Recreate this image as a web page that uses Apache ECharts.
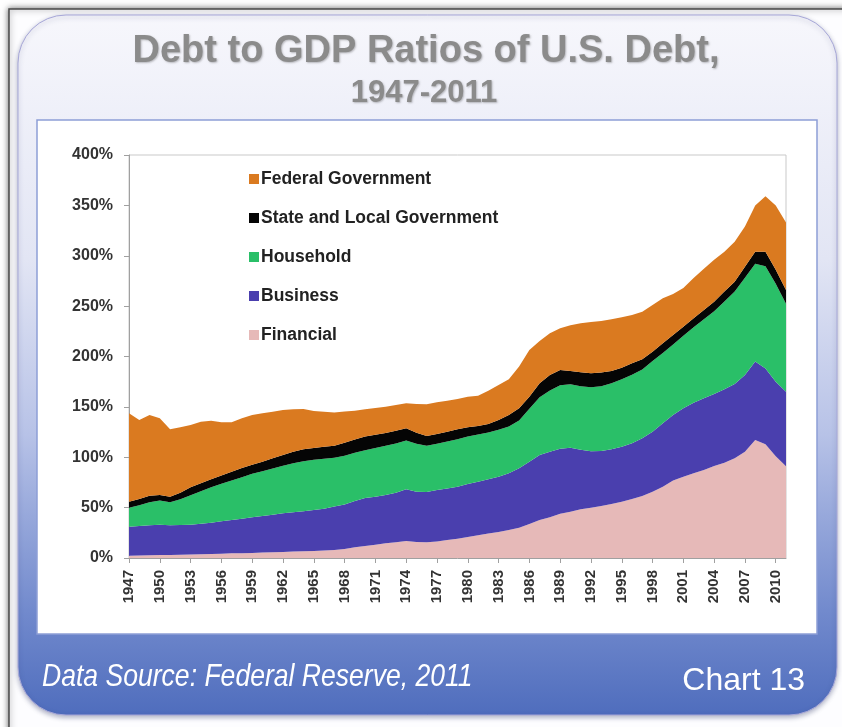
<!DOCTYPE html>
<html>
<head>
<meta charset="utf-8">
<title>Debt to GDP Ratios of U.S. Debt, 1947-2011</title>
<script src="https://cdn.jsdelivr.net/npm/echarts@6/dist/echarts.min.js"></script>
<style>
  html, body { margin: 0; padding: 0; background: #ffffff; }
  #chart { width: 842px; height: 727px; }
</style>
</head>
<body>
<div id="chart"></div>
<script>
// Years on the category axis
const years = [
  '1947','1948','1949','1950','1951','1952','1953','1954','1955','1956',
  '1957','1958','1959','1960','1961','1962','1963','1964','1965','1966',
  '1967','1968','1969','1970','1971','1972','1973','1974','1975','1976',
  '1977','1978','1979','1980','1981','1982','1983','1984','1985','1986',
  '1987','1988','1989','1990','1991','1992','1993','1994','1995','1996',
  '1997','1998','1999','2000','2001','2002','2003','2004','2005','2006',
  '2007','2008','2009','2010','2011'
];

// Debt as a percent of GDP, by sector (stacked bottom to top)
const financial = [
  2.3, 2.5, 2.7, 3.0, 3.0, 3.2, 3.5, 3.7, 4.0, 4.3,
  4.6, 4.8, 5.0, 5.4, 5.7, 6.0, 6.4, 6.7, 7.0, 7.5,
  8.0, 9.0, 10.6, 11.9, 13.2, 14.6, 15.6, 16.9, 15.9, 15.6,
  16.5, 17.9, 19.2, 20.8, 22.5, 24.2, 25.8, 27.8, 30.1, 33.7,
  37.7, 40.4, 44.0, 46.0, 48.3, 50.0, 51.6, 53.6, 55.9, 58.6,
  61.5, 65.8, 70.8, 76.8, 80.7, 84.0, 87.3, 91.3, 94.6, 98.9,
  105.5, 117.0, 113.0, 101.0, 91.0
];
const business = [
  28.7, 29.3, 29.7, 30.1, 29.4, 29.6, 29.6, 30.4, 31.1, 32.1,
  33.1, 34.2, 35.4, 36.3, 37.3, 38.3, 38.9, 39.6, 40.6, 41.5,
  43.0, 44.0, 45.9, 47.7, 47.7, 47.9, 49.2, 51.3, 49.9, 49.9,
  51.0, 51.2, 51.6, 52.6, 53.3, 53.9, 54.9, 56.2, 58.9, 61.9,
  64.5, 65.1, 64.5, 63.5, 59.2, 55.9, 54.6, 54.3, 54.6, 55.2,
  57.3, 59.6, 62.9, 65.1, 67.9, 70.2, 71.2, 71.5, 72.8, 73.8,
  76.1, 78.0, 75.0, 74.0, 74.0
];
const household = [
  18.8, 20.6, 23.0, 24.0, 23.0, 25.6, 29.3, 32.2, 35.2, 37.2,
  39.2, 41.2, 43.1, 44.5, 45.8, 47.2, 48.8, 49.8, 49.8, 49.4,
  48.4, 48.5, 48.0, 47.4, 48.4, 48.8, 48.8, 48.4, 47.5, 45.8,
  45.8, 46.5, 47.1, 47.2, 46.8, 46.5, 46.5, 46.5, 47.5, 52.5,
  57.4, 60.7, 63.0, 63.0, 63.0, 63.6, 64.3, 65.6, 67.0, 68.2,
  68.2, 70.1, 69.8, 70.1, 71.9, 74.8, 78.5, 82.2, 87.1, 91.8,
  96.5, 97.0, 101.5, 97.1, 87.3
];
const stateLocal = [
  6.1, 6.2, 6.5, 5.4, 5.5, 6.4, 7.7, 7.8, 7.8, 8.4,
  8.8, 9.1, 9.1, 9.4, 10.1, 10.7, 11.4, 11.8, 11.8, 12.1,
  12.1, 13.0, 13.0, 13.5, 13.1, 12.8, 12.8, 12.1, 11.1, 9.8,
  9.8, 9.8, 9.8, 9.1, 8.4, 8.4, 9.8, 11.4, 12.1, 12.0,
  13.8, 15.4, 15.1, 13.1, 13.8, 13.8, 13.5, 12.1, 11.4, 11.2,
  10.2, 9.3, 9.6, 9.3, 9.1, 8.9, 9.2, 9.4, 9.9, 9.8,
  11.1, 12.0, 14.5, 13.9, 13.7
];
const federal = [
  87.7, 78.4, 80.1, 76.1, 66.8, 64.9, 61.9, 61.2, 58.2, 52.7,
  49.0, 49.3, 49.4, 48.0, 46.3, 44.7, 42.1, 40.0, 36.7, 34.7,
  32.8, 31.0, 28.7, 27.1, 26.5, 26.1, 25.5, 24.8, 28.5, 31.4,
  31.4, 30.8, 30.1, 30.4, 30.1, 33.1, 34.7, 35.4, 41.4, 46.4,
  42.1, 41.4, 41.4, 45.4, 48.6, 50.9, 51.2, 51.3, 50.0, 48.0,
  47.3, 46.3, 44.6, 40.7, 38.4, 40.1, 40.8, 41.6, 39.6, 39.7,
  39.8, 46.0, 55.0, 64.0, 67.0
];

// Value axis ticks
const yTicks = { min: 0, max: 400, step: 50 };

const sans = '"Liberation Sans", Arial, Helvetica, sans-serif';

const colors = {
  federal: '#DA7A20',
  stateLocal: '#050505',
  household: '#2ABF68',
  business: '#4A3FAE',
  financial: '#E6B9B8'
};

function layer(name, data, color) {
  return {
    name: name,
    type: 'line',
    stack: 'debt',
    data: data,
    symbol: 'none',
    showSymbol: false,
    smooth: false,
    lineStyle: { width: 0, color: color },
    itemStyle: { color: color },
    areaStyle: { color: color, opacity: 1 },
    emphasis: { disabled: true },
    silent: true
  };
}

const chart = echarts.init(document.getElementById('chart'), null, { renderer: 'canvas' });

const option = {
  animation: false,
  backgroundColor: '#ffffff',
  graphic: [
    {
      type: 'rect', z: -100, silent: true,
      shape: { x: 9, y: 9, width: 860, height: 760 },
      style: { fill: '#fdfdff', stroke: '#4a4a4a', lineWidth: 1.5,
               shadowBlur: 6, shadowColor: 'rgba(0,0,0,0.55)' }
    },
    {
      type: 'rect', z: -90, silent: true,
      shape: { x: 18, y: 15, width: 819, height: 700, r: 48 },
      style: {
        fill: new echarts.graphic.LinearGradient(0, 0, 0, 1, [
          { offset: 0, color: '#f7f7fc' },
          { offset: 0.35, color: '#e2e5f4' },
          { offset: 0.6, color: '#b7c2e7' },
          { offset: 0.85, color: '#728acd' },
          { offset: 1, color: '#4f6dbd' }
        ]),
        stroke: '#a7a7d8', lineWidth: 1,
        shadowBlur: 5, shadowColor: 'rgba(30,40,90,0.35)', shadowOffsetY: 2
      }
    },
    {
      type: 'rect', z: -80, silent: true,
      shape: { x: 37, y: 120, width: 780, height: 514 },
      style: { fill: '#ffffff', stroke: '#8d9ed6', lineWidth: 1.5 }
    },
    {
      type: 'text', z: 10, silent: true,
      style: {
        text: 'Debt to GDP Ratios of U.S. Debt,', x: 426, y: 33,
        align: 'center', verticalAlign: 'top',
        font: 'bold 38px ' + sans, fill: '#8b8b8b',
        textShadowColor: 'rgba(0,0,0,0.25)', textShadowBlur: 2, textShadowOffsetX: 1, textShadowOffsetY: 1
      }
    },
    {
      type: 'text', z: 10, silent: true,
      style: {
        text: '1947-2011', x: 424, y: 78,
        align: 'center', verticalAlign: 'top',
        font: 'bold 31px ' + sans, fill: '#8b8b8b',
        textShadowColor: 'rgba(0,0,0,0.25)', textShadowBlur: 2, textShadowOffsetX: 1, textShadowOffsetY: 1
      }
    },
    {
      // condensed italic footer
      type: 'text', z: 10, silent: true,
      x: 42, y: 677, scaleX: 0.83, scaleY: 1,
      style: {
        text: 'Data Source: Federal Reserve, 2011', x: 0, y: 0,
        align: 'left', verticalAlign: 'middle',
        font: 'italic 32px ' + sans, fill: '#ffffff'
      }
    },
    {
      type: 'text', z: 10, silent: true,
      style: {
        text: 'Chart 13', x: 805, y: 681,
        align: 'right', verticalAlign: 'middle',
        font: '32px ' + sans, fill: '#ffffff'
      }
    }
  ],
  legend: {
    orient: 'vertical',
    left: 244,
    top: 165,
    itemWidth: 10,
    itemHeight: 10,
    itemGap: 21,
    icon: 'rect',
    selectedMode: false,
    data: ['Federal Government', 'State and Local Government', 'Household', 'Business', 'Financial'],
    textStyle: { fontFamily: sans, fontSize: 17.5, fontWeight: 'bold', color: '#222222', lineHeight: 18, padding: [0, 0, 0, -3] }
  },
  grid: {
    left: 129, top: 155, width: 657, height: 403,
    show: true, borderColor: '#c9c9c9', borderWidth: 1, backgroundColor: 'transparent',
    containLabel: false
  },
  xAxis: {
    type: 'category',
    data: years,
    boundaryGap: false,
    axisLine: { show: true, lineStyle: { color: '#a0a0a0', width: 1 } },
    axisTick: { show: true, interval: 2, length: 5, lineStyle: { color: '#a0a0a0' } },
    axisLabel: {
      interval: 2, rotate: 90, margin: 12,
      fontFamily: sans, fontSize: 15, fontWeight: 'bold', color: '#333333'
    },
    splitLine: { show: false }
  },
  yAxis: {
    type: 'value',
    min: yTicks.min, max: yTicks.max, interval: yTicks.step,
    axisLine: { show: true, lineStyle: { color: '#a0a0a0', width: 1 } },
    axisTick: { show: true, length: 5, lineStyle: { color: '#a0a0a0' } },
    axisLabel: {
      formatter: '{value}%', margin: 16,
      fontFamily: sans, fontSize: 16, fontWeight: 'bold', color: '#333333'
    },
    splitLine: { show: false }
  },
  series: [
    layer('Financial', financial, colors.financial),
    layer('Business', business, colors.business),
    layer('Household', household, colors.household),
    layer('State and Local Government', stateLocal, colors.stateLocal),
    layer('Federal Government', federal, colors.federal)
  ]
};

chart.setOption(option);
</script>
</body>
</html>
